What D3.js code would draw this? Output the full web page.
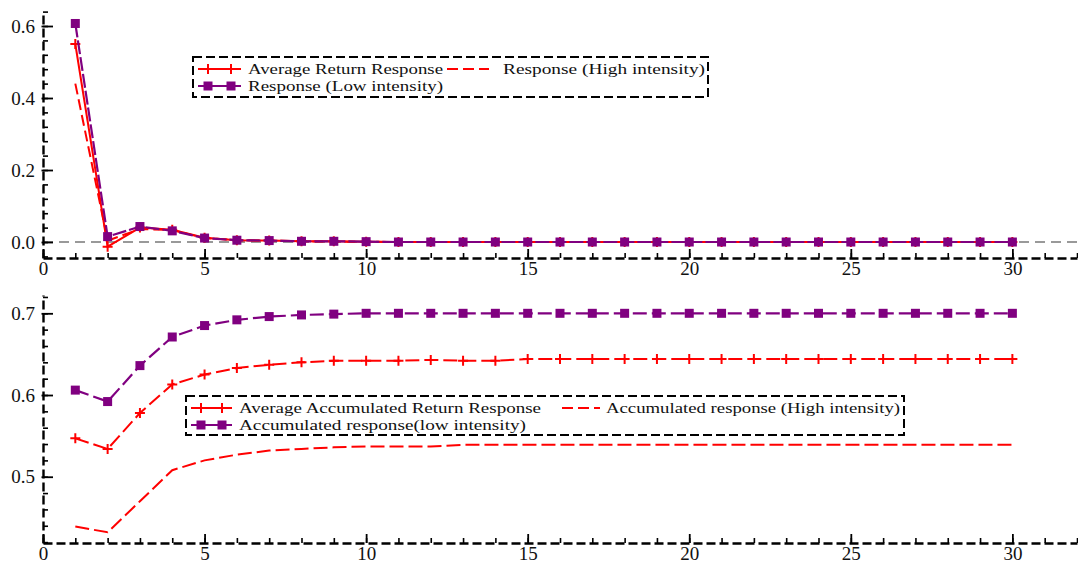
<!DOCTYPE html>
<html><head><meta charset="utf-8">
<script src="https://cdn.jsdelivr.net/npm/d3@7"></script>
<style>
html,body{margin:0;padding:0;background:#fff;}
svg{display:block;}
svg text{font-family:"Liberation Serif","Times New Roman",serif !important;}
</style></head>
<body>
<svg id="chart" width="1078" height="568"></svg>
<script>
// ---------- data ----------
const periods = [1,2,3,4,5,6,7,8,9,10,11,12,13,14,15,16,17,18,19,20,21,22,23,24,25,26,27,28,29,30];
const avgResponse  = [0.550,-0.013,0.040,0.034,0.012,0.005,0.004,0.002,0.002,0.001,0.000,0.000,0.000,0.000,0.000,0.000,0.000,0.000,0.000,0.000,0.000,0.000,0.000,0.000,0.000,0.000,0.000,0.000,0.000,0.000];
const highResponse = [0.440,0.004,0.036,0.033,0.011,0.005,0.004,0.002,0.001,0.001,0.000,0.000,0.000,0.000,0.000,0.000,0.000,0.000,0.000,0.000,0.000,0.000,0.000,0.000,0.000,0.000,0.000,0.000,0.000,0.000];
const lowResponse  = [0.607,0.015,0.043,0.031,0.011,0.005,0.004,0.002,0.002,0.001,0.000,0.000,0.000,0.000,0.000,0.000,0.000,0.000,0.000,0.000,0.000,0.000,0.000,0.000,0.000,0.000,0.000,0.000,0.000,0.000];
const accAvg  = [0.547,0.534,0.578,0.613,0.625,0.633,0.637,0.640,0.642,0.642,0.642,0.643,0.642,0.642,0.644,0.644,0.644,0.644,0.644,0.644,0.644,0.644,0.644,0.644,0.644,0.644,0.644,0.644,0.644,0.644];
const accHigh = [0.439,0.432,0.470,0.508,0.520,0.527,0.532,0.534,0.536,0.537,0.537,0.537,0.539,0.539,0.539,0.539,0.539,0.539,0.539,0.539,0.539,0.539,0.539,0.539,0.539,0.539,0.539,0.539,0.539,0.539];
const accLow  = [0.606,0.592,0.636,0.671,0.685,0.692,0.696,0.698,0.699,0.700,0.700,0.700,0.700,0.700,0.700,0.700,0.700,0.700,0.700,0.700,0.700,0.700,0.700,0.700,0.700,0.700,0.700,0.700,0.700,0.700];
const xTicks = [0,5,10,15,20,25,30];
const yTicksTop = [0.0,0.2,0.4,0.6];
const yTicksBottom = [0.5,0.6,0.7];
const legendTop = ["Average Return Response","Response (High intensity)","Response (Low intensity)"];
const legendBottom = ["Average Accumulated Return Response","Accumulated response (High intensity)","Accumulated response(low intensity)"];

const RED = "#ff0000", PURPLE = "#800080";
const svg = d3.select("#chart");

const x = d3.scaleLinear().domain([0,32]).range([43,1077]);
const minorX = d3.range(0,33,1);

function drawAxes(y, majorY, minorY, fmt){
  const gx = svg.append("g").attr("transform",`translate(0,${y.range()[0]})`);
  gx.call(d3.axisBottom(x).tickValues(minorX).tickSizeInner(-5).tickSizeOuter(0).tickFormat(""));
  gx.selectAll(".tick line").attr("stroke","#000").attr("stroke-width",1.6);
  gx.select(".domain").attr("stroke","#000").attr("stroke-width",2.4).attr("stroke-dasharray","9,4");
  const gx2 = svg.append("g").attr("transform",`translate(0,${y.range()[0]})`);
  gx2.call(d3.axisBottom(x).tickValues(xTicks).tickSizeInner(-9).tickSizeOuter(0).tickPadding(4).tickFormat(d3.format("d")));
  gx2.select(".domain").remove();
  gx2.selectAll(".tick line").attr("stroke","#000").attr("stroke-width",1.8);
  gx2.selectAll(".tick text").style("font-size","19px").attr("fill","#111");

  const gy = svg.append("g").attr("transform",`translate(43,0)`);
  gy.call(d3.axisLeft(y).tickValues(minorY).tickSizeInner(-5).tickSizeOuter(0).tickFormat(""));
  gy.selectAll(".tick line").attr("stroke","#000").attr("stroke-width",1.6);
  gy.select(".domain").attr("stroke","#000").attr("stroke-width",2.4).attr("stroke-dasharray","9,4");
  const gy2 = svg.append("g").attr("transform",`translate(43,0)`);
  gy2.call(d3.axisLeft(y).tickValues(majorY).tickSizeInner(-10).tickSizeOuter(0).tickPadding(9).tickFormat(fmt));
  gy2.select(".domain").remove();
  gy2.selectAll(".tick line").attr("stroke","#000").attr("stroke-width",1.8).attr("x1",-1.5);
  gy2.selectAll(".tick text").style("font-size","19px").attr("fill","#111").attr("x",-8);
}

function plusPath(s){return `M${-s},0H${s}M0,${-s}V${s}`;}

function drawSeries(y, vals, color, dash, marker, width){
  const data = periods.map((p,i)=>({p, v: vals[i]}));
  const line = d3.line().x(d=>x(d.p)).y(d=>y(d.v));
  svg.append("path").datum(data).attr("d",line).attr("fill","none")
    .attr("stroke",color).attr("stroke-width",width||2).attr("stroke-dasharray",dash||null);
  if(marker==="plus"){
    svg.append("g").selectAll("path").data(data).join("path")
      .attr("transform",d=>`translate(${x(d.p)},${y(d.v)})`)
      .attr("d",plusPath(5)).attr("stroke",color).attr("stroke-width",2).attr("fill","none");
  } else if(marker==="square"){
    svg.append("g").selectAll("rect").data(data).join("rect")
      .attr("x",d=>x(d.p)-4.5).attr("y",d=>y(d.v)-4.5).attr("width",9).attr("height",9)
      .attr("fill",color);
  }
}

function drawLegend(box, rows){
  svg.append("rect").attr("x",box.x).attr("y",box.y).attr("width",box.w).attr("height",box.h)
    .attr("fill","#fff").attr("stroke","#000").attr("stroke-width",2).attr("stroke-dasharray","9,4");
  rows.forEach(r=>{
    svg.append("line").attr("x1",r.lx1).attr("x2",r.lx2).attr("y1",r.y).attr("y2",r.y)
      .attr("stroke",r.color).attr("stroke-width",2).attr("stroke-dasharray",r.dash||null);
    if(r.marker==="plus"){
      [r.lx1+10,r.lx2-10].forEach(mx=>svg.append("path").attr("transform",`translate(${mx},${r.y})`)
        .attr("d",plusPath(5)).attr("stroke",r.color).attr("stroke-width",2));
    } else if(r.marker==="square"){
      [r.lx1+10,r.lx2-10].forEach(mx=>svg.append("rect").attr("x",mx-4.5).attr("y",r.y-4.5)
        .attr("width",9).attr("height",9).attr("fill",r.color));
    }
    svg.append("text").attr("x",r.tx).attr("y",r.y+5).style("font-size","15px").attr("fill","#111")
      .attr("textLength",r.tw).attr("lengthAdjust","spacingAndGlyphs").text(r.label);
  });
}

// ---------- top panel ----------
const yTop = d3.scaleLinear().domain([-0.0444,0.6389]).range([258,12]);
svg.append("line").attr("x1",x(0)).attr("x2",1078).attr("y1",yTop(0)).attr("y2",yTop(0))
  .attr("stroke","#999").attr("stroke-width",1.8).attr("stroke-dasharray","10,6");
drawAxes(yTop, yTicksTop, d3.range(-0.04,0.6401,0.04), d3.format(".1f"));
drawSeries(yTop, highResponse, RED, "11,5", null, 2);
drawSeries(yTop, avgResponse, RED, null, "plus", 2);
drawSeries(yTop, lowResponse, PURPLE, "14,3", "square", 2.2);
drawLegend({x:193,y:57,w:515,h:40},[
  {y:69,lx1:198,lx2:241,color:RED,marker:"plus",tx:248,tw:195,label:legendTop[0]},
  {y:69,lx1:447,lx2:489,color:RED,dash:"11,5",tx:503,tw:202,label:legendTop[1]},
  {y:86,lx1:198,lx2:241,color:PURPLE,marker:"square",tx:248,tw:195,label:legendTop[2]}
]);

// ---------- bottom panel ----------
const yBot = d3.scaleLinear().domain([0.4189,0.7224]).range([543,295]);
drawAxes(yBot, yTicksBottom, d3.range(0.42,0.7201,0.02), d3.format(".1f"));
drawSeries(yBot, accHigh, RED, "14,5", null, 2);
drawSeries(yBot, accAvg, RED, "14,5", "plus", 2);
drawSeries(yBot, accLow, PURPLE, "14,5", "square", 2.2);
drawLegend({x:186,y:396,w:718,h:39},[
  {y:408,lx1:191,lx2:232,color:RED,marker:"plus",tx:239,tw:302,label:legendBottom[0]},
  {y:408,lx1:562,lx2:600,color:RED,dash:"11,5",tx:606,tw:294,label:legendBottom[1]},
  {y:425,lx1:191,lx2:232,color:PURPLE,marker:"square",tx:239,tw:287,label:legendBottom[2]}
]);
</script>
</body></html>
